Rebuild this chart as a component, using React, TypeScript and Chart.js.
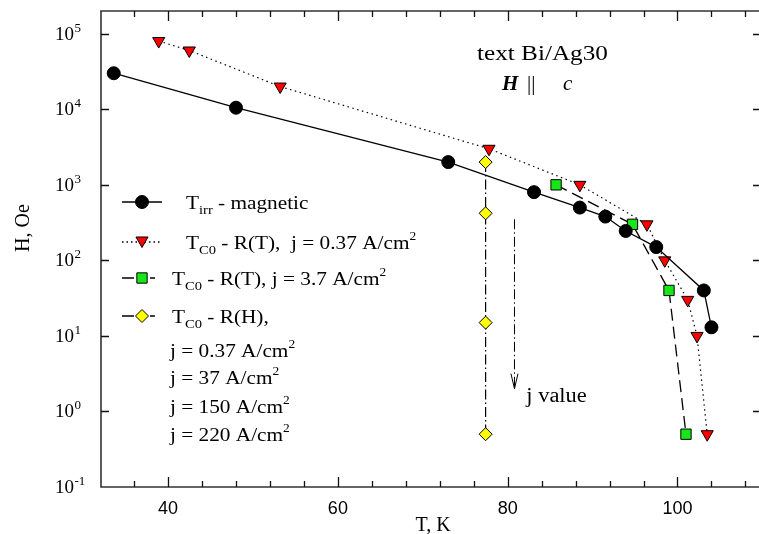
import React, { useEffect, useRef } from 'react';
import { Chart, registerables } from 'chart.js';

Chart.register(...registerables);

// ---- data ----
const tirrT = [33.6, 48.0, 73.0, 83.1, 88.5, 91.5, 93.9, 97.5, 103.1, 104.0];
const tirrH = [30000, 10500, 2000, 800, 500, 380, 245, 150, 40, 13];

const rt037T = [38.9, 42.5, 53.2, 77.8, 88.5, 96.4, 98.5, 101.2, 102.3, 103.5];
const rt037H = [80000, 60000, 20000, 3000, 1000, 300, 100, 30, 10, 0.5];

const rt37T = [85.7, 94.7, 99.0, 101.0];
const rt37H = [1000, 300, 40, 0.5];

const rhT = [77.4, 77.4, 77.4, 77.4];
const rhH = [2000, 420, 15, 0.5];

// arrow annotation ("j value")
const arrowT = 80.8;
const arrowH = [350, 2];
const arrowLabel = 'j value';
const arrowLabelT = 82.2;
const arrowLabelH = 1.35;

// axes
const xMin = 32.1;
const xMax = 109.6;
const yMin = 0.1;
const yMax = 2e5;
const xMajorTicks = [40, 60, 80, 100];
const xTickLabels = ['40', '60', '80', '100'];
const xMinorTicks = [36, 44, 48, 52, 56, 64, 68, 72, 76, 84, 88, 92, 96, 104, 108];
const yTickExponents = [-1, 0, 1, 2, 3, 4, 5];
const yTickBase = '10';
const xTitle = 'T, K';
const yTitle = 'H, Oe';
const annotation1 = 'text Bi/Ag30';

const SERIF = "'Liberation Serif', 'Times New Roman', serif";
const SANS = "'Liberation Sans', Arial, sans-serif";

type Seg = { t: string; size: number; dy?: number; style?: string };

const legendRows: { segs: Seg[] }[] = [
  { segs: [{ t: 'T', size: 19 }, { t: 'irr', size: 13, dy: 5 }, { t: ' - magnetic', size: 19 }] },
  { segs: [{ t: 'T', size: 19 }, { t: 'C0', size: 13, dy: 5 }, { t: ' - R(T),  j = 0.37 A/cm', size: 19 }, { t: '2', size: 12, dy: -9 }] },
  { segs: [{ t: 'T', size: 19 }, { t: 'C0', size: 13, dy: 5 }, { t: ' - R(T), j = 3.7 A/cm', size: 19 }, { t: '2', size: 12, dy: -9 }] },
  { segs: [{ t: 'T', size: 19 }, { t: 'C0', size: 13, dy: 5 }, { t: ' - R(H),', size: 19 }] },
  { segs: [{ t: 'j = 0.37 A/cm', size: 19 }, { t: '2', size: 12, dy: -9 }] },
  { segs: [{ t: 'j = 37 A/cm', size: 19 }, { t: '2', size: 12, dy: -9 }] },
  { segs: [{ t: 'j = 150 A/cm', size: 19 }, { t: '2', size: 12, dy: -9 }] },
  { segs: [{ t: 'j = 220 A/cm', size: 19 }, { t: '2', size: 12, dy: -9 }] },
];

const toPts = (xs: number[], ys: number[]) => xs.map((x, i) => ({ x, y: ys[i] }));

function drawRich(ctx: CanvasRenderingContext2D, x: number, y: number, segs: Seg[], sx = 1, family = SERIF) {
  ctx.save();
  ctx.translate(x, y);
  ctx.scale(sx, 1);
  let cx = 0;
  for (const s of segs) {
    ctx.font = `${s.style ?? ''} ${s.size}px ${family}`;
    ctx.fillText(s.t, cx, s.dy ?? 0);
    cx += ctx.measureText(s.t).width;
  }
  ctx.restore();
  return x + cx * sx;
}

function marker(ctx: CanvasRenderingContext2D, kind: string, x: number, y: number, r: number, fill: string) {
  ctx.save();
  ctx.beginPath();
  if (kind === 'circle') {
    ctx.arc(x, y, r, 0, Math.PI * 2);
  } else if (kind === 'tri') {
    ctx.moveTo(x, y + r);
    ctx.lineTo(x - r * 0.866, y - r * 0.5);
    ctx.lineTo(x + r * 0.866, y - r * 0.5);
    ctx.closePath();
  } else if (kind === 'rect') {
    const s = r * Math.SQRT1_2;
    ctx.rect(x - s, y - s, 2 * s, 2 * s);
  } else {
    ctx.moveTo(x - r, y);
    ctx.lineTo(x, y - r);
    ctx.lineTo(x + r, y);
    ctx.lineTo(x, y + r);
    ctx.closePath();
  }
  ctx.fillStyle = fill;
  ctx.fill();
  ctx.lineWidth = 1;
  ctx.strokeStyle = '#000';
  ctx.stroke();
  ctx.restore();
}

const decorPlugin = {
  id: 'decor',
  afterDraw(chart: any) {
    const ctx: CanvasRenderingContext2D = chart.ctx;
    const { left, right, top, bottom } = chart.chartArea;
    const xs = chart.scales.x;
    const ys = chart.scales.y;
    ctx.save();

    // frame
    ctx.strokeStyle = '#333';
    ctx.lineWidth = 1.6;
    ctx.beginPath();
    ctx.moveTo(right + 2, top);
    ctx.lineTo(left, top);
    ctx.lineTo(left, bottom);
    ctx.lineTo(right + 2, bottom);
    ctx.stroke();

    // x ticks (inward, bottom and top)
    ctx.strokeStyle = '#111';
    ctx.lineWidth = 1.3;
    ctx.beginPath();
    for (const t of xMajorTicks) {
      const px = Math.round(xs.getPixelForValue(t)) + 0.5;
      ctx.moveTo(px, bottom); ctx.lineTo(px, bottom - 10);
      ctx.moveTo(px, top); ctx.lineTo(px, top + 10);
    }
    for (const t of xMinorTicks) {
      const px = Math.round(xs.getPixelForValue(t)) + 0.5;
      ctx.moveTo(px, bottom); ctx.lineTo(px, bottom - 6);
      ctx.moveTo(px, top); ctx.lineTo(px, top + 6);
    }
    // y ticks
    for (const e of yTickExponents) {
      const py = Math.round(ys.getPixelForValue(Math.pow(10, e))) + 0.5;
      if (e === -1) continue;
      ctx.moveTo(left, py); ctx.lineTo(left + 8, py);
      ctx.moveTo(right, py); ctx.lineTo(right - 6, py);
    }
    ctx.stroke();

    // x tick labels
    ctx.fillStyle = '#000';
    ctx.textBaseline = 'alphabetic';
    ctx.textAlign = 'center';
    ctx.font = `18px ${SANS}`;
    xMajorTicks.forEach((t, i) => {
      ctx.fillText(xTickLabels[i], xs.getPixelForValue(t), bottom + 27);
    });

    // y tick labels
    ctx.textAlign = 'left';
    for (const e of yTickExponents) {
      const py = ys.getPixelForValue(Math.pow(10, e));
      ctx.font = `19px ${SERIF}`;
      ctx.fillText(yTickBase, 55, py + 6);
      const w = ctx.measureText(yTickBase).width;
      ctx.font = `13px ${SERIF}`;
      ctx.fillText(String(e), 55 + w + 0.5, py - 2);
    }

    // axis titles
    ctx.font = `20px ${SERIF}`;
    ctx.textAlign = 'center';
    ctx.fillText(xTitle, 433, 531);
    ctx.save();
    ctx.translate(29, 228);
    ctx.rotate(-Math.PI / 2);
    ctx.fillText(yTitle, 0, 0);
    ctx.restore();

    // annotation top right
    ctx.textAlign = 'left';
    drawRich(ctx, 477, 60, [{ t: annotation1, size: 21 }], 1.2);
    ctx.font = `italic bold 21px ${SERIF}`;
    ctx.fillText('H', 502, 90);
    ctx.font = `21px ${SERIF}`;
    ctx.fillText('||', 527, 90);
    ctx.font = `italic 21px ${SERIF}`;
    ctx.fillText('c', 563, 90);

    // j value arrow
    const ax = xs.getPixelForValue(arrowT);
    const ay0 = ys.getPixelForValue(arrowH[0]);
    const ay1 = ys.getPixelForValue(arrowH[1]);
    ctx.strokeStyle = '#000';
    ctx.lineWidth = 1;
    ctx.setLineDash([10, 3, 1.5, 3]);
    ctx.beginPath();
    ctx.moveTo(ax, ay0); ctx.lineTo(ax, ay1);
    ctx.stroke();
    ctx.setLineDash([]);
    ctx.beginPath();
    ctx.moveTo(ax - 3.5, ay1 - 15); ctx.lineTo(ax, ay1); ctx.lineTo(ax + 3.5, ay1 - 15);
    ctx.stroke();
    drawRich(ctx, xs.getPixelForValue(arrowLabelT), ys.getPixelForValue(arrowLabelH), [{ t: arrowLabel, size: 20 }], 1.12);

    // legend
    const rowY = [202, 242, 278, 316, 350, 377, 406, 434];
    ctx.strokeStyle = '#000';
    ctx.lineWidth = 1.3;
    ctx.beginPath(); ctx.moveTo(122, rowY[0]); ctx.lineTo(162, rowY[0]); ctx.stroke();
    marker(ctx, 'circle', 142, rowY[0], 6.5, '#000');
    ctx.setLineDash([1.5, 3]);
    ctx.beginPath(); ctx.moveTo(122, rowY[1]); ctx.lineTo(162, rowY[1]); ctx.stroke();
    ctx.setLineDash([]);
    marker(ctx, 'tri', 142, rowY[1] - 1.5, 7, '#ff0000');
    ctx.beginPath(); ctx.moveTo(122, rowY[2]); ctx.lineTo(134, rowY[2]);
    ctx.moveTo(150, rowY[2]); ctx.lineTo(155, rowY[2]); ctx.stroke();
    marker(ctx, 'rect', 142, rowY[2], 7.3, '#18e618');
    ctx.beginPath(); ctx.moveTo(122, rowY[3]); ctx.lineTo(134, rowY[3]);
    ctx.moveTo(150, rowY[3]); ctx.lineTo(155, rowY[3]); ctx.stroke();
    marker(ctx, 'diamond', 142, rowY[3], 6.5, '#ffff00');

    ctx.fillStyle = '#000';
    const textX = [186, 186, 172, 172, 170, 170, 170, 170];
    legendRows.forEach((r, i) => {
      drawRich(ctx, textX[i], rowY[i] + 7, r.segs, 1.12);
    });

    ctx.restore();
  },
};

export default function App() {
  const ref = useRef<HTMLCanvasElement | null>(null);
  useEffect(() => {
    if (!ref.current) return;
    const chart = new Chart(ref.current, {
      type: 'scatter',
      data: {
        datasets: [
          {
            label: 'Tirr - magnetic',
            data: toPts(tirrT, tirrH),
            showLine: true,
            borderColor: '#000',
            borderWidth: 1.3,
            pointStyle: 'circle',
            pointRadius: 6.5,
            pointBackgroundColor: '#000',
            pointBorderColor: '#000',
            pointBorderWidth: 1,
          },
          {
            label: 'TC0 - R(T), j = 0.37',
            data: toPts(rt037T, rt037H),
            showLine: true,
            borderColor: '#000',
            borderWidth: 1.2,
            borderDash: [1.5, 3.5],
            pointStyle: 'triangle',
            pointRotation: 180,
            pointRadius: 7,
            pointBackgroundColor: '#ff0000',
            pointBorderColor: '#000',
            pointBorderWidth: 1,
          },
          {
            label: 'TC0 - R(T), j = 3.7',
            data: toPts(rt37T, rt37H),
            showLine: true,
            borderColor: '#000',
            borderWidth: 1.3,
            borderDash: [12, 6],
            pointStyle: 'rect',
            pointRadius: 7.3,
            pointBackgroundColor: '#18e618',
            pointBorderColor: '#000',
            pointBorderWidth: 1,
          },
          {
            label: 'TC0 - R(H)',
            data: toPts(rhT, rhH),
            showLine: true,
            borderColor: '#000',
            borderWidth: 1.2,
            borderDash: [10, 3, 1.5, 3],
            pointStyle: 'rectRot',
            pointRadius: 6.5,
            pointBackgroundColor: '#ffff00',
            pointBorderColor: '#000',
            pointBorderWidth: 1,
          },
        ],
      },
      options: {
        animation: false,
        responsive: false,
        devicePixelRatio: 1,
        layout: { autoPadding: false, padding: { left: 101, top: 11, right: 0, bottom: 47 } },
        scales: {
          x: { type: 'linear', min: xMin, max: xMax, display: false },
          y: { type: 'logarithmic', min: yMin, max: yMax, display: false },
        },
        plugins: { legend: { display: false }, tooltip: { enabled: false } },
        elements: { line: { tension: 0 } },
      },
      plugins: [decorPlugin],
    });
    return () => chart.destroy();
  }, []);
  return (
    <div style={{ position: 'absolute', left: 0, top: 0, width: 759, height: 534, background: '#fff' }}>
      <canvas ref={ref} width={759} height={534} style={{ display: 'block' }} />
    </div>
  );
}
